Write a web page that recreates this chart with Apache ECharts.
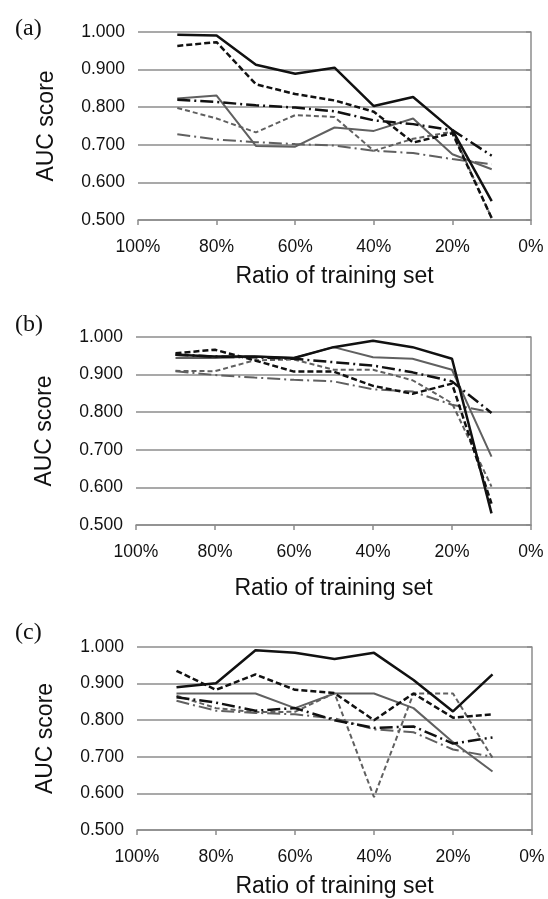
<!DOCTYPE html>
<html>
<head>
<meta charset="utf-8">
<script src="https://cdn.jsdelivr.net/npm/echarts@6/dist/echarts.min.js"></script>
<style>
  html, body { margin: 0; padding: 0; background: #fff; }
  #main { width: 548px; height: 899px; }
</style>
</head>
<body>
<div id="main"></div>
<script>
// ratio of training set (%)
var ratios = [90, 80, 70, 60, 50, 40, 30, 20, 10];
var xTicks = [100, 80, 60, 40, 20, 0];
var yTicks = [0.5, 0.6, 0.7, 0.8, 0.9, 1.0];
var panelLabels = ['(a)', '(b)', '(c)'];

// panel (a)
var aBlackSolid = [0.993, 0.991, 0.913, 0.889, 0.905, 0.803, 0.827, 0.739, 0.550];
var aBlackDash  = [0.963, 0.973, 0.861, 0.835, 0.818, 0.788, 0.706, 0.731, 0.505];
var aBlackDot   = [0.820, 0.814, 0.805, 0.799, 0.789, 0.765, 0.755, 0.739, 0.671];
var aGraySolid  = [0.823, 0.831, 0.697, 0.695, 0.746, 0.737, 0.770, 0.675, 0.635];
var aGrayDash   = [0.798, 0.770, 0.733, 0.779, 0.774, 0.684, 0.716, 0.735, 0.505];
var aGrayDot    = [0.728, 0.714, 0.707, 0.702, 0.698, 0.684, 0.678, 0.662, 0.648];

// panel (b)
var bBlackSolid = [0.953, 0.948, 0.948, 0.944, 0.973, 0.990, 0.973, 0.942, 0.531];
var bBlackDash  = [0.957, 0.966, 0.938, 0.908, 0.908, 0.870, 0.849, 0.876, 0.557];
var bBlackDot   = [0.953, 0.948, 0.946, 0.942, 0.933, 0.924, 0.906, 0.882, 0.798];
var bGraySolid  = [0.944, 0.944, 0.948, 0.944, 0.973, 0.946, 0.942, 0.913, 0.682];
var bGrayDash   = [0.910, 0.909, 0.938, 0.940, 0.913, 0.913, 0.885, 0.824, 0.602];
var bGrayDot    = [0.909, 0.899, 0.892, 0.886, 0.882, 0.861, 0.855, 0.820, 0.800];

// panel (c)
var cBlackSolid = [0.890, 0.901, 0.991, 0.984, 0.967, 0.984, 0.910, 0.824, 0.925];
var cBlackDash  = [0.935, 0.883, 0.925, 0.883, 0.874, 0.800, 0.873, 0.807, 0.816];
var cBlackDot   = [0.863, 0.848, 0.826, 0.833, 0.800, 0.779, 0.783, 0.736, 0.753];
var cGraySolid  = [0.873, 0.873, 0.873, 0.833, 0.873, 0.873, 0.833, 0.740, 0.660];
var cGrayDash   = [0.867, 0.833, 0.822, 0.823, 0.874, 0.590, 0.873, 0.873, 0.697];
var cGrayDot    = [0.853, 0.826, 0.820, 0.816, 0.805, 0.775, 0.767, 0.720, 0.700];

var panels = [
  [aBlackSolid, aBlackDash, aBlackDot, aGraySolid, aGrayDash, aGrayDot],
  [bBlackSolid, bBlackDash, bBlackDot, bGraySolid, bGrayDash, bGrayDot],
  [cBlackSolid, cBlackDash, cBlackDot, cGraySolid, cGrayDash, cGrayDot]
];

// line look for the 6 series (same order in every panel)
var looks = [
  { color: '#111', width: 2.5, type: 'solid' },
  { color: '#111', width: 2.5, type: [6, 3] },
  { color: '#111', width: 2.5, type: [13, 4, 2, 4] },
  { color: '#606060', width: 2, type: 'solid' },
  { color: '#606060', width: 2, type: [5, 3] },
  { color: '#606060', width: 2, type: [13, 4, 2, 4] }
];

var font = 'Liberation Sans, Arial, sans-serif';
var axisGray = '#8c8c8c';

var grids = [
  { left: 138, top: 32, width: 393, height: 188 },
  { left: 136, top: 337, width: 395, height: 188 },
  { left: 137, top: 647, width: 395, height: 187 }
];
var labelTops = [12, 308, 616];
var xNameGaps = [45, 52, 45];

var chart = echarts.init(document.getElementById('main'), null, { renderer: 'canvas' });

var xAxes = [], yAxes = [], series = [], titles = [];
grids.forEach(function (g, i) {
  titles.push({
    text: panelLabels[i], left: 10, top: labelTops[i],
    textStyle: { fontFamily: 'Liberation Serif, Times New Roman, serif', fontSize: 24, fontWeight: 'normal', color: '#111' }
  });
  xAxes.push({
    gridIndex: i, type: 'value', inverse: true,
    min: xTicks[xTicks.length - 1], max: xTicks[0], interval: 20,
    name: 'Ratio of training set', nameLocation: 'middle', nameGap: xNameGaps[i],
    nameTextStyle: { fontFamily: font, fontSize: 23, color: '#111' },
    axisLine: { show: true, lineStyle: { color: axisGray, width: 1.5 } },
    axisTick: { show: true, length: 5, lineStyle: { color: axisGray, width: 1.5 } },
    axisLabel: { margin: 18, fontFamily: font, fontSize: 17.5, color: '#111', formatter: '{value}%' },
    splitLine: { show: false }
  });
  yAxes.push({
    gridIndex: i, type: 'value',
    min: yTicks[0], max: yTicks[yTicks.length - 1], interval: 0.1,
    name: 'AUC score', nameLocation: 'middle', nameGap: 80,
    nameTextStyle: { fontFamily: font, fontSize: 23, color: '#111' },
    axisLine: { show: true, lineStyle: { color: axisGray, width: 1.5 } },
    axisTick: { show: true, length: 5, lineStyle: { color: axisGray, width: 1.5 } },
    axisLabel: { margin: 13, fontFamily: font, fontSize: 17.5, color: '#111',
      formatter: function (v) { return v.toFixed(3); } },
    splitLine: { show: true, lineStyle: { color: axisGray, width: 1.5 } }
  });
  panels[i].forEach(function (vals, k) {
    series.push({
      type: 'line', xAxisIndex: i, yAxisIndex: i,
      data: ratios.map(function (r, j) { return [r, vals[j]]; }),
      symbol: 'none', silent: true, animation: false,
      lineStyle: { color: looks[k].color, width: looks[k].width, type: looks[k].type },
      z: 10 - k
    });
  });
});

chart.setOption({
  animation: false,
  title: titles,
  grid: grids,
  xAxis: xAxes,
  yAxis: yAxes,
  series: series
});
</script>
</body>
</html>
